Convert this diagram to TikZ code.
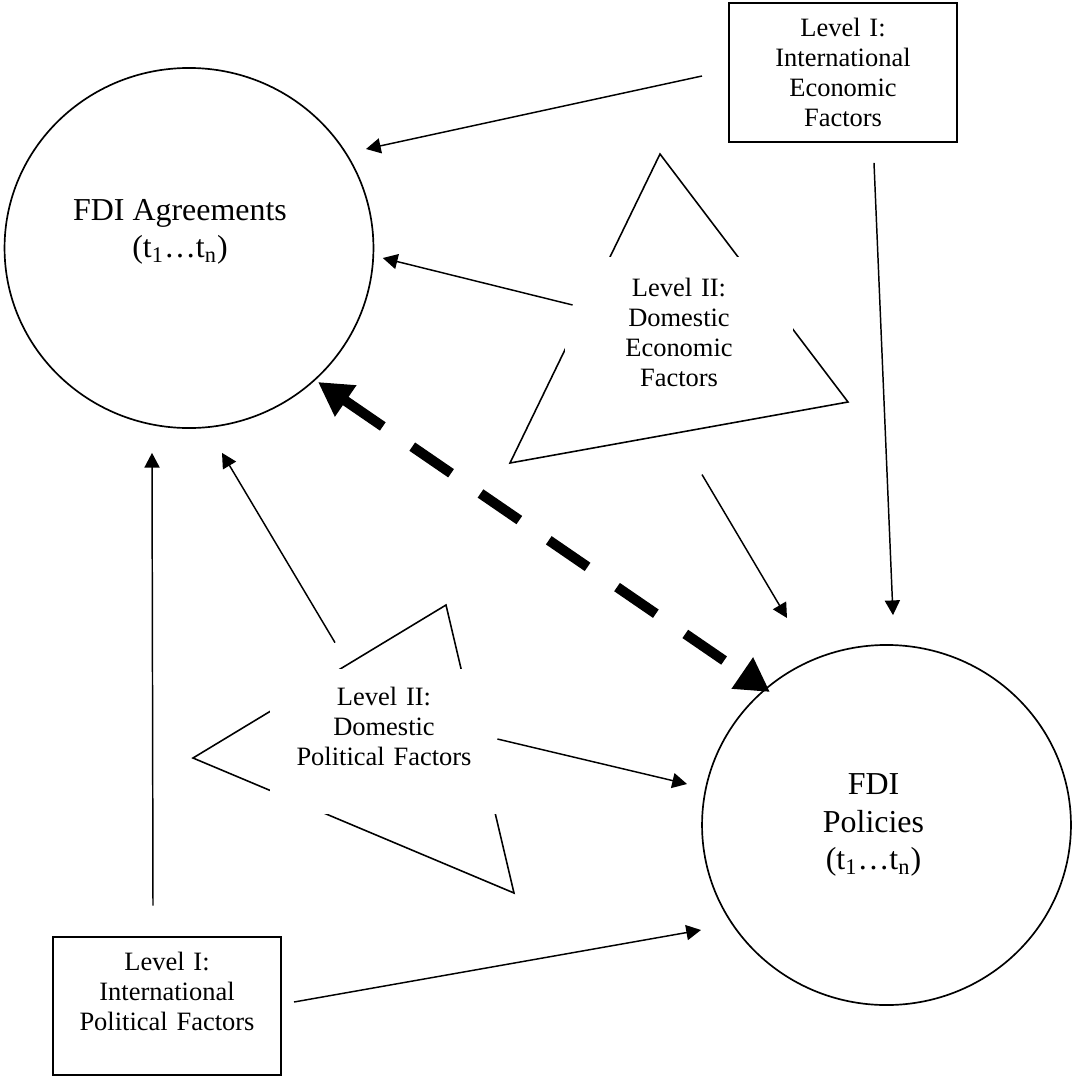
\documentclass[tikz,border=0pt]{standalone}
\usepackage{fontspec}
\setmainfont{Liberation Serif}
\usetikzlibrary{arrows.meta,shapes.geometric}

\begin{document}
\begin{tikzpicture}[x=0.476pt,y=-0.476pt,>=Triangle,
  lvlbox/.style={draw,line width=1pt,minimum width=108.5pt,minimum height=66pt,
    text width=104pt,align=center,inner sep=0pt,font=\fontsize{12.6}{14.3}\selectfont},
  domtext/.style={fill=white,minimum width=108.5pt,minimum height=72pt,
    text width=104pt,align=center,inner sep=0pt,font=\fontsize{12.6}{14.3}\selectfont},
  bigcirc/.style={ellipse,draw,line width=0.8pt,minimum width=175.6pt,
    minimum height=171.4pt,inner sep=0pt},
  bigtext/.style={align=center,font=\fontsize{15.2}{17.8}\selectfont},
  link/.style={->,line width=0.7pt,>={Triangle[length=7pt,width=7.2pt]}},
  twoway/.style={<->,line width=4.8pt,dash pattern=on 22.4pt off 17pt,
    >={Triangle[length=16pt,width=17pt]}}]
  \useasboundingbox (0,0) rectangle (1073,1078);

  % the two level II triangles
  \draw[line width=0.75pt] (660,154) -- (848,402) -- (510,463) -- cycle;
  \draw[line width=0.75pt] (446,605) -- (514,893) -- (193,758) -- cycle;

  \node[bigcirc] (agree) at (189,248) {};
  \node[bigtext] (agreetxt) at ([shift={(-9,-16)}]agree.center)
    {FDI Agreements\\(t\textsubscript{1}…t\textsubscript{n})};
  \node[bigcirc] (pol) at (886.5,825) {};
  \node[bigtext] (poltxt) at ([shift={(-13,0)}]pol.center)
    {FDI\\Policies\\(t\textsubscript{1}…t\textsubscript{n})};

  \node[lvlbox] (econbox) at (843,72.5)
    {Level I:\\International\\Economic\\Factors};
  \node[lvlbox] (polbox) at (167,1006)
    {Level I:\\International\\Political Factors\\\mbox{}};
  \node[domtext] (econlvl) at (679,332.5)
    {Level II:\\Domestic\\Economic\\Factors};
  \node[domtext,minimum height=69pt] (pollvl) at (384,741.5)
    {Level II:\\Domestic\\Political Factors\\\mbox{}};

  \draw[link] ([shift={(-26,3.5)}]econbox.west) -- ([shift={(177,-99)}]agree.center);
  \draw[link] ([shift={(31,20)}]econbox.south) -- ([shift={(6.5,-29)}]pol.north);
  \draw[link] ([shift={(8,-27.5)}]econlvl.west) -- ([shift={(8.5,10)}]agree.east);
  \draw[link] ([shift={(23,66)}]econlvl.south) -- ([shift={(-99.5,-207)}]pol.center);
  \draw[twoway] ([shift={(129,134)}]agree.center) -- ([shift={(-116.5,-133)}]pol.center);
  \draw[link] ([shift={(-49,-26)}]pollvl.north) -- ([shift={(33,24)}]agree.south);
  \draw[link] ([shift={(-1,-2.5)}]pollvl.east) -- ([shift={(-199.5,-41)}]pol.center);
  \draw[link] ([shift={(-14,-30)}]polbox.north) -- ([shift={(-37,24)}]agree.south);
  \draw[link] ([shift={(12,-4)}]polbox.east) -- ([shift={(-185.5,105)}]pol.center);
\end{tikzpicture}
\end{document}
